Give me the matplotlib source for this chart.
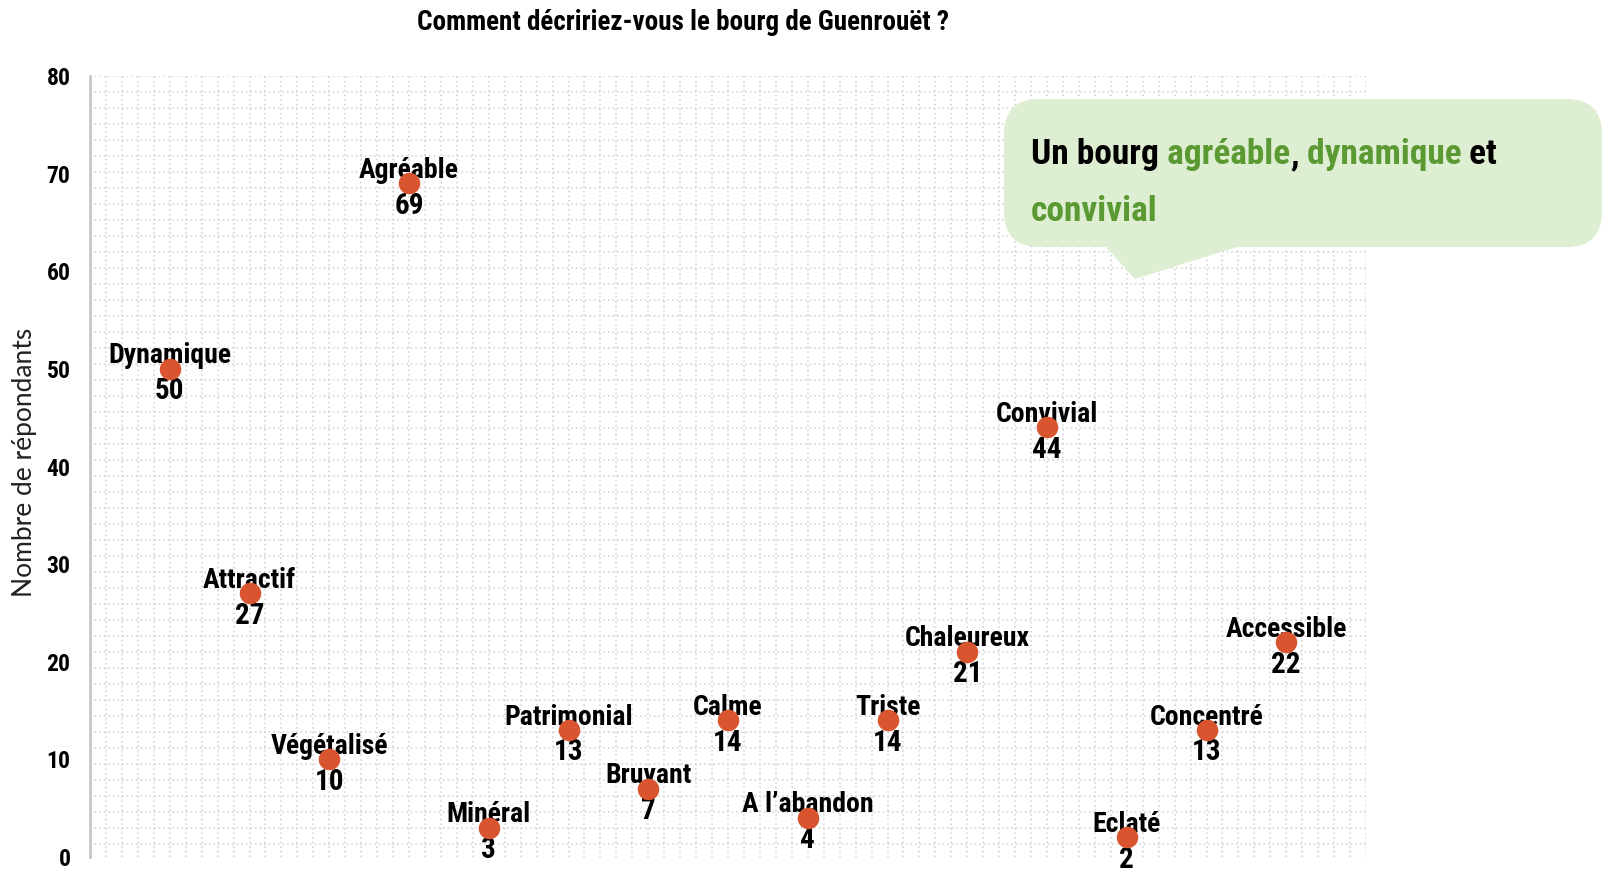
import numpy as np
import matplotlib
matplotlib.use('Agg')
from matplotlib import pyplot as plt
from matplotlib.patches import FancyBboxPatch, Polygon

# --- data ---
labels = ['Dynamique', 'Attractif', 'Végétalisé', 'Agréable', 'Minéral', 'Patrimonial',
          'Bruyant', 'Calme', 'A l\u2019abandon', 'Triste', 'Chaleureux', 'Convivial',
          'Eclaté', 'Concentré', 'Accessible']
values = [50, 27, 10, 69, 3, 13, 7, 14, 4, 14, 21, 44, 2, 13, 22]
y_ticks = [0, 10, 20, 30, 40, 50, 60, 70, 80]

title = 'Comment décririez-vous le bourg de Guenrouët ?'
ylabel = 'Nombre de répondants'

COND = ['Roboto Condensed', 'Liberation Sans Narrow', 'DejaVu Sans']
DOT = '#d9552f'
GREEN = '#5b9a32'
BUBBLE = '#deeed2'

W, H = 1604, 871
fig = plt.figure(figsize=(W / 100, H / 100), dpi=100)
ax = fig.add_axes([90 / W, 1 - 857 / H, (1366 - 90) / W, (857 - 76) / H])

x = np.arange(1, len(values) + 1)
ax.set_xlim(0, 16)
ax.set_ylim(0, 80)

# grid-paper background (square cells of ~16 px)
for gx in np.arange(0.2, 16.01, 0.2):
    ax.axvline(gx, color='#d0d0d0', lw=1.1, ls=(0, (1, 2)), zorder=0)
for gy in np.arange(80, 0, -1.639):
    ax.axhline(gy, color='#d0d0d0', lw=1.1, ls=(0, (1, 2)), zorder=0)

ax.scatter(x, values, s=240, color=DOT, zorder=4, linewidths=0)

for xi, v, lab in zip(x, values, labels):
    ax.annotate(lab, (xi, v), xytext=(0, 4), textcoords='offset points',
                ha='center', va='baseline', fontsize=20, fontweight='bold',
                family=COND, zorder=3)
    ax.annotate(str(v), (xi, v), xytext=(0, -6), textcoords='offset points',
                ha='center', va='top', fontsize=21, fontweight='bold',
                family=COND, zorder=3)

for s in ['top', 'right', 'bottom']:
    ax.spines[s].set_visible(False)
ax.spines['left'].set_color('#c8c8c8')
ax.spines['left'].set_linewidth(2)
ax.set_xticks([])
ax.set_yticks(y_ticks)
ax.set_yticklabels([str(t) for t in y_ticks], fontsize=17, fontweight='bold', family=COND)
ax.tick_params(axis='y', length=0, pad=14)
ax.set_ylabel(ylabel, fontsize=19, family=['Lato', 'DejaVu Sans'], color='#222222')
ax.yaxis.set_label_coords(-53 / (1366 - 90), 0.505)

fig.text(683 / W, 1 - 22 / H, title, ha='center', va='center', fontsize=19.5,
         fontweight='bold', family=COND)


# callout bubble, drawn in figure pixels
def fp(px, py):
    return (px / W, 1 - py / H)


bx0, by0 = fp(1004, 247)
bx1, by1 = fp(1602, 99)
bubble = FancyBboxPatch((bx0, by0), bx1 - bx0, by1 - by0,
                        boxstyle='round,pad=0,rounding_size=0.022',
                        transform=fig.transFigure, facecolor=BUBBLE,
                        edgecolor='none', zorder=10, mutation_aspect=W / H)
fig.patches.append(bubble)
tail = Polygon([fp(1105, 246), fp(1240, 246), fp(1135, 279)], closed=True,
               transform=fig.transFigure, facecolor=BUBBLE, edgecolor='none', zorder=10)
fig.patches.append(tail)

# two-colour callout text, one piece after the other
pieces = [('Un bourg', 'black'), (' agréable', GREEN), (',', 'black'),
          (' dynamique', GREEN), (' et', 'black')]
t = fig.text(*fp(1031, 164), pieces[0][0], color=pieces[0][1], fontsize=25.5,
             fontweight='bold', family=COND, va='baseline', zorder=11)
for txt, col in pieces[1:]:
    t = fig.add_artist(matplotlib.text.Annotation(
        txt, xy=(1, 0), xycoords=t, va='bottom', color=col, fontsize=25.5,
        fontweight='bold', family=COND, zorder=11))
fig.text(*fp(1031, 221), 'convivial', color=GREEN, fontsize=25.5, fontweight='bold',
         family=COND, va='baseline', zorder=11)

fig.savefig('out.png', dpi=100)
